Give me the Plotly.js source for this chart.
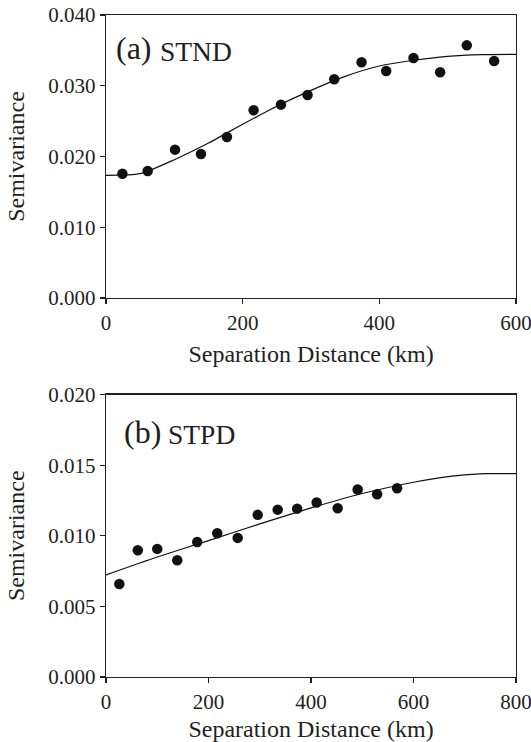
<!DOCTYPE html>
<html>
<head>
<meta charset="utf-8">
<script src="https://cdn.plot.ly/plotly-3.0.1.min.js"></script>
<style>html,body{margin:0;padding:0;background:#fff;overflow:hidden;}</style>
</head>
<body>
<div id="chart" style="width:531px;height:742px;"></div>
<script>
// Panel (a) STND: observed semivariance
const stndLag = [24, 61, 101, 139, 177, 216, 256, 295, 334, 374, 410, 450, 489, 528, 568];
const stndGamma = [0.01757, 0.01795, 0.02097, 0.02035, 0.02276, 0.02653, 0.02733, 0.02869, 0.03091, 0.03331, 0.03208, 0.03392, 0.03190, 0.03571, 0.03350];
// Panel (a) fitted model curve
const stndFitLag = [0, 50, 100, 150, 200, 250, 300, 350, 400, 450, 500, 550, 600];
const stndFitGamma = [0.01734, 0.01757, 0.01955, 0.02190, 0.02455, 0.02710, 0.02935, 0.03133, 0.03279, 0.03360, 0.03416, 0.03440, 0.03444];

// Panel (b) STPD: observed semivariance
const stpdLag = [26, 62, 100, 139, 178, 217, 257, 296, 335, 373, 411, 452, 491, 529, 568];
const stpdGamma = [0.00659, 0.00897, 0.00907, 0.00826, 0.00956, 0.01018, 0.00985, 0.01148, 0.01185, 0.01192, 0.01235, 0.01195, 0.01327, 0.01294, 0.01336];
// Panel (b) fitted model curve
const stpdFitLag = [0, 100, 200, 300, 400, 500, 600, 650, 700, 740, 800];
const stpdFitGamma = [0.00723, 0.00850, 0.00966, 0.01084, 0.01197, 0.01299, 0.01379, 0.01410, 0.01431, 0.01440, 0.01440];

const xTitle = 'Separation Distance (km)';
const yTitle = 'Semivariance';
const labelA = ['(a)', 'STND'];
const labelB = ['(b)', 'STPD'];

const ink = '#231f20';
const serif = 'Liberation Serif';

const markerStyle = {color: '#111', size: 10.5};
const lineStyle = {color: '#111', width: 1.2, shape: 'spline', smoothing: 0.6};

const traces = [
  {x: stndFitLag, y: stndFitGamma, mode: 'lines', line: lineStyle, xaxis: 'x', yaxis: 'y', hoverinfo: 'skip'},
  {x: stndLag, y: stndGamma, mode: 'markers', marker: markerStyle, xaxis: 'x', yaxis: 'y'},
  {x: stpdFitLag, y: stpdFitGamma, mode: 'lines', line: lineStyle, xaxis: 'x2', yaxis: 'y2', hoverinfo: 'skip'},
  {x: stpdLag, y: stpdGamma, mode: 'markers', marker: markerStyle, xaxis: 'x2', yaxis: 'y2'}
];

function axisBase() {
  return {
    showgrid: false, zeroline: false,
    showline: true, linecolor: ink, linewidth: 1.3, mirror: true,
    ticks: 'outside', ticklen: 5, tickwidth: 1.2, tickcolor: ink,
    ticklabeloverflow: 'allow',
    tickfont: {family: serif, size: 21, color: ink},
    title: {font: {family: serif, size: 24, color: ink}}
  };
}

const xa = Object.assign(axisBase(), {range: [0, 600], tickvals: [0, 200, 400, 600], anchor: 'y', domain: [0, 1]});
xa.title.text = xTitle; xa.title.standoff = 11;
const ya = Object.assign(axisBase(), {range: [0, 0.040], tickvals: [0, 0.01, 0.02, 0.03, 0.04], tickformat: '.3f', anchor: 'x', domain: [0.5725, 1]});
ya.title.text = yTitle; ya.title.standoff = 16;
const xa2 = Object.assign(axisBase(), {range: [0, 800], tickvals: [0, 200, 400, 600, 800], anchor: 'y2', domain: [0, 1]});
xa2.title.text = xTitle; xa2.title.standoff = 11;
const ya2 = Object.assign(axisBase(), {range: [0, 0.020], tickvals: [0, 0.005, 0.01, 0.015, 0.02], tickformat: '.3f', anchor: 'x2', domain: [0, 0.4267]});
ya2.title.text = yTitle; ya2.title.standoff = 16;

const layout = {
  width: 531, height: 742,
  margin: {l: 106, r: 15, t: 15, b: 65},
  paper_bgcolor: '#fff', plot_bgcolor: '#fff',
  font: {family: serif, color: ink},
  showlegend: false,
  xaxis: xa, yaxis: ya, xaxis2: xa2, yaxis2: ya2,
  annotations: [
    {xref: 'x domain', yref: 'y domain', x: 0.02, y: 0.882, xanchor: 'left', yanchor: 'middle', showarrow: false,
     text: labelA[0], font: {family: serif, size: 32, color: ink}},
    {xref: 'x domain', yref: 'y domain', x: 0.128, y: 0.872, xanchor: 'left', yanchor: 'middle', showarrow: false,
     text: labelA[1], font: {family: serif, size: 27.5, color: ink}},
    {xref: 'x2 domain', yref: 'y2 domain', x: 0.038, y: 0.866, xanchor: 'left', yanchor: 'middle', showarrow: false,
     text: labelB[0], font: {family: serif, size: 32, color: ink}},
    {xref: 'x2 domain', yref: 'y2 domain', x: 0.146, y: 0.860, xanchor: 'left', yanchor: 'middle', showarrow: false,
     text: labelB[1], font: {family: serif, size: 27.5, color: ink}}
  ]
};

Plotly.newPlot('chart', traces, layout, {staticPlot: true, displayModeBar: false});
</script>
</body>
</html>
